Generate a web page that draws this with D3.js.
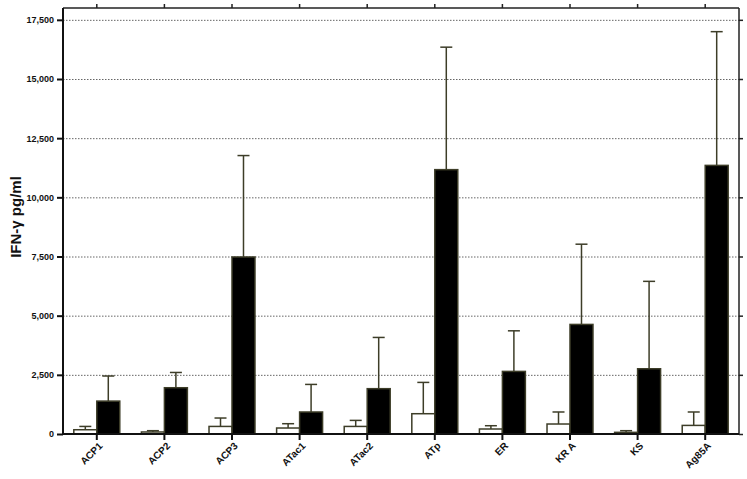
<!DOCTYPE html>
<html>
<head>
<meta charset="utf-8">
<script src="https://cdn.jsdelivr.net/npm/d3@7"></script>
<style>
  body { margin: 0; background: #fff; }
  svg { font-family: "Liberation Sans", Arial, sans-serif; font-weight: bold; display: block; }
  .grid line { stroke: #666; stroke-dasharray: 1.5,1.5; stroke-width: 1; }
  .grid .domain { display: none; }
</style>
</head>
<body>
<script>
// data
const categories = ['ACP1', 'ACP2', 'ACP3', 'ATac1', 'ATac2', 'ATp', 'ER', 'KR A', 'KS', 'Ag85A'];
const openMean   = [180, 85, 320, 253, 320, 857, 211, 422, 70, 363];
const openSD     = [140, 55, 355, 182, 255, 1323, 139, 508, 70, 567];
const filledMean = [1390, 1955, 7480, 930, 1915, 11170, 2645, 4630, 2757, 11350];
const filledSD   = [1060, 645, 4285, 1165, 2165, 5175, 1715, 3390, 3693, 5650];
const yTicks = [0, 2500, 5000, 7500, 10000, 12500, 15000, 17500];

const width = 747, height = 479;
const margin = {top: 8, right: 8, bottom: 45, left: 63};
const innerWidth = width - margin.left - margin.right;
const innerHeight = height - margin.top - margin.bottom;

const series = ['open', 'filled'];
const rows = categories.map((c, i) => ({
  cat: c,
  vals: [
    {key: 'open', mean: openMean[i], sd: openSD[i]},
    {key: 'filled', mean: filledMean[i], sd: filledSD[i]}
  ]
}));

const svg = d3.select('body').append('svg').attr('width', width).attr('height', height);
const g = svg.append('g').attr('transform', `translate(${margin.left},${margin.top})`);

const x0 = d3.scaleBand().domain(categories).range([0, innerWidth])
  .paddingInner(0.32).paddingOuter(0.16);
const x1 = d3.scaleBand().domain(series).range([0, x0.bandwidth()]);
const y = d3.scaleLinear().domain([0, 18000]).range([innerHeight, 0]);

const ink = '#3d3d28';

// grid
g.append('g').attr('class', 'grid')
  .call(d3.axisLeft(y).tickValues(yTicks.slice(1)).tickSize(-innerWidth).tickFormat(''));

// bars
const grp = g.append('g').selectAll('g').data(rows).join('g')
  .attr('transform', d => `translate(${x0(d.cat)},0)`);

grp.selectAll('rect').data(d => d.vals).join('rect')
  .attr('x', d => x1(d.key))
  .attr('y', d => y(d.mean))
  .attr('width', x1.bandwidth())
  .attr('height', d => innerHeight - y(d.mean))
  .attr('fill', d => d.key === 'open' ? '#fff' : '#000')
  .attr('stroke', ink)
  .attr('stroke-width', 1.5);

// error bars (upper only)
const cap = 12;
const eb = grp.selectAll('g.err').data(d => d.vals).join('g').attr('class', 'err')
  .attr('stroke', ink).attr('stroke-width', 1.5);
eb.append('line')
  .attr('x1', d => x1(d.key) + x1.bandwidth() / 2)
  .attr('x2', d => x1(d.key) + x1.bandwidth() / 2)
  .attr('y1', d => y(d.mean))
  .attr('y2', d => y(d.mean + d.sd));
eb.append('line')
  .attr('x1', d => x1(d.key) + x1.bandwidth() / 2 - cap / 2)
  .attr('x2', d => x1(d.key) + x1.bandwidth() / 2 + cap / 2)
  .attr('y1', d => y(d.mean + d.sd))
  .attr('y2', d => y(d.mean + d.sd));

// frame: top and right axes
const topAx = g.append('g').call(d3.axisTop(x0).tickSize(4).tickFormat(''));
const rightAx = g.append('g').attr('transform', `translate(${innerWidth},0)`)
  .call(d3.axisRight(y).tickValues(yTicks).tickSize(4).tickFormat(''));
[topAx, rightAx].forEach(a => {
  a.selectAll('path,line').attr('stroke', '#222').attr('stroke-width', 1.5);
  a.select('.domain').attr('d', a === topAx ? `M0,0H${innerWidth}` : `M0,0V${innerHeight}`);
});

// left axis
const leftAx = g.append('g')
  .call(d3.axisLeft(y).tickValues(yTicks).tickSize(6).tickPadding(3).tickFormat(d3.format(',')));
leftAx.select('.domain').attr('d', `M0,0V${innerHeight}`);
leftAx.selectAll('path,line').attr('stroke', '#111').attr('stroke-width', 2);
leftAx.selectAll('text').attr('font-size', 9).attr('font-weight', 'bold').attr('fill', '#111')
  .attr('font-family', '"Liberation Sans", Arial, sans-serif');

// bottom axis
const botAx = g.append('g').attr('transform', `translate(0,${innerHeight})`)
  .call(d3.axisBottom(x0).tickSize(6).tickFormat(''));
botAx.select('.domain').attr('d', `M0,0H${innerWidth}`);
botAx.selectAll('path,line').attr('stroke', '#111').attr('stroke-width', 2);

// category labels, turned 45 degrees
g.append('g').selectAll('text').data(categories).join('text')
  .attr('transform', d => `translate(${x0(d) + x0.bandwidth() / 2 + 4},${innerHeight + 10}) rotate(-45)`)
  .attr('text-anchor', 'end')
  .attr('dy', '0.35em')
  .attr('font-size', 10)
  .attr('fill', '#111')
  .text(d => d);

// y label
svg.append('text')
  .attr('transform', `translate(21,${margin.top + innerHeight / 2 - 4}) rotate(-90)`)
  .attr('text-anchor', 'middle')
  .attr('font-size', 15)
  .attr('fill', '#111')
  .text('IFN-γ pg/ml');
</script>
</body>
</html>
